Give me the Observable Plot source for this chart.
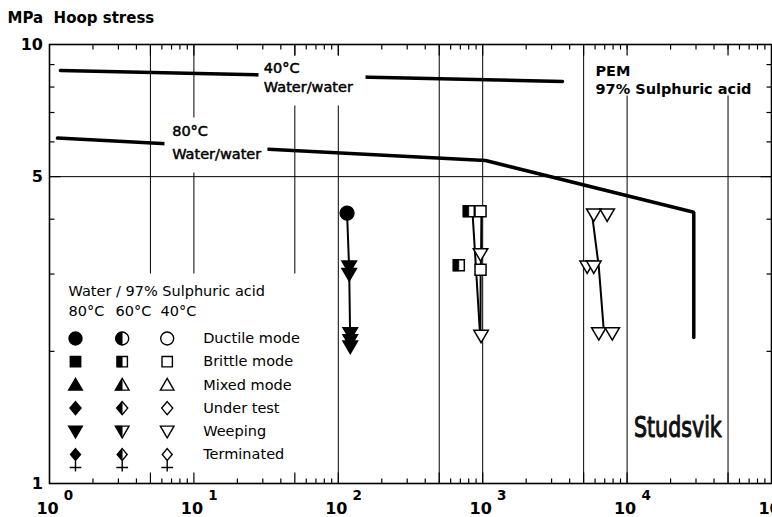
<!DOCTYPE html>
<html><head><meta charset="utf-8">
<script src="https://cdn.jsdelivr.net/npm/d3@7"></script>
<script src="https://cdn.jsdelivr.net/npm/@observablehq/plot@0.6"></script>
<style>
body{margin:0;background:#fff;}
#chart svg{display:block;}
</style></head><body><div id="chart"></div>
<script>
// ---------- data ----------
const titleText = "MPa\u00a0\u00a0Hoop stress";
const xTickValues = [1, 10, 100, 1000, 10000, 100000];
const xTickExponents = ["0", "1", "2", "3", "4", "5"];
const yTickValues = [10, 5, 1];
const gridX = [5, 10, 50, 100, 500, 1000, 5000, 10000, 50000];
const gridY = [5];

// reference curves (water/water)
const water80X = [1.136, 1046, 28960, 28960];
const water80Y = [6.12, 5.44, 4.15, 2.15];
const water40X = [1.19, 3570];
const water40Y = [8.73, 8.24];

// test points (time h, hoop stress MPa)
const ductile80X = [115];
const ductile80Y = [4.13];
const weeping80X = [119, 119, 121, 121, 121];
const weeping80Y = [3.12, 3.00, 2.20, 2.12, 2.05];
const brittle60X = [801, 683];
const brittle60Y = [4.17, 3.14];
const brittle40X = [966, 966];
const brittle40Y = [4.17, 3.07];
const weeping40X = [966, 975, 5290, 5880, 5880, 7280, 6370, 7890];
const weeping40Y = [3.33, 2.17, 3.12, 3.12, 4.10, 4.10, 2.20, 2.20];

// connecting lines through the point groups
const trend80X = [115, 119, 121];
const trend80Y = [4.13, 3.06, 2.05];
const trend60X = [850, 960];
const trend60Y = [4.15, 2.17];
const trend40aX = [980, 975, 968, 965];
const trend40aY = [4.17, 3.33, 3.07, 2.17];
const trend40bX = [5730, 6370, 6900];
const trend40bY = [4.08, 3.11, 2.23];

// annotations
const labelText = ["40°C", "Water/water", "80°C", "Water/water"];
const labelX = [30.5, 30.5, 7.07, 7.07];
const labelY = [8.84, 8.0, 6.34, 5.63];
const pemText = ["PEM", "97% Sulphuric acid"];
const pemX = [6040, 6040];
const pemY = [8.68, 7.90];
const logoText = ["Studsvik"];
const logoX = [11130];
const logoY = [1.34];

// legend
const legendTitle = "Water / 97% Sulphuric acid";
const legendTemps = ["80°C", "60°C", "40°C"];
const legendModes = ["Ductile mode", "Brittle mode", "Mixed mode", "Under test", "Weeping", "Terminated"];
const legendShapes = ["circle", "square", "triUp", "diamond", "triDown", "terminated"];

// ---------- helpers ----------
const pts = (xs, ys) => xs.map((x, i) => ({x, y: ys[i]}));
const sym = fn => ({draw(c, size) { const r = Math.sqrt(size / Math.PI); fn(c, r); }});
const shapes = {
  circle: sym((c, r) => { c.moveTo(r, 0); c.arc(0, 0, r, 0, 2 * Math.PI); c.closePath(); }),
  square: sym((c, r) => { const s = 0.8 * r; c.rect(-s, -s, 2 * s, 2 * s); }),
  triUp: sym((c, r) => { c.moveTo(0, -r); c.lineTo(1.05 * r, 0.8 * r); c.lineTo(-1.05 * r, 0.8 * r); c.closePath(); }),
  triDown: sym((c, r) => { c.moveTo(0, r); c.lineTo(1.05 * r, -0.8 * r); c.lineTo(-1.05 * r, -0.8 * r); c.closePath(); }),
  diamond: sym((c, r) => { c.moveTo(0, -r); c.lineTo(0.85 * r, 0); c.lineTo(0, r); c.lineTo(-0.85 * r, 0); c.closePath(); }),
  terminated: sym((c, r) => { const d = 0.9 * r; c.moveTo(0, -d); c.lineTo(0.85 * d, 0); c.lineTo(0, d); c.lineTo(-0.85 * d, 0); c.closePath();
    c.moveTo(0, d); c.lineTo(0, 2.6 * r); c.moveTo(-0.9 * r, 2.0 * r); c.lineTo(0.9 * r, 2.0 * r); })
};
const halves = {
  circle: sym((c, r) => { c.moveTo(0, r); c.arc(0, 0, r, Math.PI / 2, 3 * Math.PI / 2); c.closePath(); }),
  square: sym((c, r) => { const s = 0.8 * r; c.rect(-s, -s, s, 2 * s); }),
  triUp: sym((c, r) => { c.moveTo(0, -r); c.lineTo(0, 0.8 * r); c.lineTo(-1.05 * r, 0.8 * r); c.closePath(); }),
  triDown: sym((c, r) => { c.moveTo(0, r); c.lineTo(0, -0.8 * r); c.lineTo(-1.05 * r, -0.8 * r); c.closePath(); }),
  diamond: sym((c, r) => { c.moveTo(0, -r); c.lineTo(0, r); c.lineTo(-0.85 * r, 0); c.closePath(); }),
  terminated: sym((c, r) => { const d = 0.9 * r; c.moveTo(0, -d); c.lineTo(0, d); c.lineTo(-0.85 * d, 0); c.closePath(); })
};
const pxRect = (x0, y0, w, h) => ({draw(c) { c.rect(x0, y0, w, h); }});
const pxLine = (x0, y0, x1, y1) => ({draw(c) { c.moveTo(x0, y0); c.lineTo(x1, y1); }});

const R = 6.9;
function pointMarks(xs, ys, shape, temp) {
  const data = pts(xs, ys);
  const m = [Plot.dot(data, {x: "x", y: "y", symbol: shapes[shape], r: R,
    fill: temp === 80 ? "black" : "white", stroke: "black", strokeWidth: 1.5})];
  if (temp === 60) m.push(Plot.dot(data, {x: "x", y: "y", symbol: halves[shape], r: R, fill: "black", stroke: "black", strokeWidth: 0.6}));
  return m;
}
const lineMark = (xs, ys, w) => Plot.line(pts(xs, ys), {x: "x", y: "y", stroke: "black", strokeWidth: w, strokeLinejoin: "miter"});

// legend marks (pixel layout from frame top-left)
const legCols = [26, 72.7, 117.7];
const legRow0 = 294, legStep = 23.2;
const legText = (s, dx, dy) => Plot.text([s], {text: d => d, frameAnchor: "top-left", dx, dy, textAnchor: "start", lineAnchor: "middle", fontSize: 14.5, fill: "black"});
const legendMarks = [];
legendMarks.push(Plot.dot([0], {frameAnchor: "bottom-left", symbol: pxRect(0, -210, 271, 210), fill: "white", stroke: "none"}));
legendMarks.push(legText(legendTitle, 19, 247));
[19, 66, 111].forEach((dx, j) => legendMarks.push(legText(legendTemps[j], dx, 267)));
legendModes.forEach((mode, i) => {
  const dy = legRow0 + i * legStep;
  const shape = legendShapes[i];
  legCols.forEach((dx, j) => {
    legendMarks.push(Plot.dot([0], {frameAnchor: "top-left", dx, dy, symbol: shapes[shape], r: 6.5,
      fill: j === 0 ? "black" : "white", stroke: "black", strokeWidth: 1.4}));
    if (j === 1) legendMarks.push(Plot.dot([0], {frameAnchor: "top-left", dx, dy, symbol: halves[shape], r: 6.5, fill: "black", stroke: "black", strokeWidth: 0.6}));
  });
  legendMarks.push(legText(mode, 153.7, dy));
});

// ticks
const decadeStarts = [1, 10, 100, 1000, 10000];
const minorX = decadeStarts.flatMap(d => [2, 3, 4, 6, 7, 8, 9].map(k => k * d));
const majorX = decadeStarts.flatMap(d => [d, 5 * d]).filter(v => v > 1);
const minorY = [2, 3, 4, 6, 7, 8, 9];
const majorY = [5];
const tk = {stroke: "black", fill: "none", strokeWidth: 1.2};
const tickMarks = [
  Plot.dot(minorX, {x: d => d, frameAnchor: "top", symbol: pxLine(0, 0, 0, 5), ...tk}),
  Plot.dot(majorX, {x: d => d, frameAnchor: "top", symbol: pxLine(0, 0, 0, 11), ...tk}),
  Plot.dot(minorX, {x: d => d, frameAnchor: "bottom", symbol: pxLine(0, 0, 0, -5), ...tk}),
  Plot.dot(majorX, {x: d => d, frameAnchor: "bottom", symbol: pxLine(0, 0, 0, -11), ...tk}),
  Plot.dot(minorY, {y: d => d, frameAnchor: "left", symbol: pxLine(0, 0, 5, 0), ...tk}),
  Plot.dot(majorY, {y: d => d, frameAnchor: "left", symbol: pxLine(0, 0, 11, 0), ...tk}),
  Plot.dot(minorY, {y: d => d, frameAnchor: "right", symbol: pxLine(0, 0, -5, 0), ...tk}),
  Plot.dot(majorY, {y: d => d, frameAnchor: "right", symbol: pxLine(0, 0, -11, 0), ...tk})
];

const chart = Plot.plot({
  width: 772, height: 517,
  marginTop: 44, marginRight: 1, marginBottom: 34, marginLeft: 49,
  x: {type: "log", domain: [1, 1e5], axis: null},
  y: {type: "log", domain: [1, 10], axis: null},
  style: {fontFamily: "'DejaVu Sans', sans-serif", background: "white", color: "black", overflow: "visible"},
  marks: [
    Plot.ruleX(gridX, {stroke: "black", strokeWidth: 1}),
    Plot.ruleY(gridY, {stroke: "black", strokeWidth: 1}),
    lineMark(water80X, water80Y, 3.5),
    lineMark(water40X, water40Y, 3.5),
    // white boxes behind annotations
    Plot.dot([0], {x: () => labelX[0], y: () => labelY[0], symbol: pxRect(-5.3, -12.5, 107, 50), fill: "white", stroke: "none"}),
    Plot.dot([0], {x: () => labelX[2], y: () => labelY[2], symbol: pxRect(-7.7, -14, 103, 55), fill: "white", stroke: "none"}),
    Plot.dot([0], {x: () => pemX[0], y: () => pemY[0], symbol: pxRect(-5, -22, 178, 46), fill: "white", stroke: "none"}),
    ...legendMarks,
    lineMark(trend80X, trend80Y, 2),
    lineMark(trend60X, trend60Y, 2),
    lineMark(trend40aX, trend40aY, 2),
    lineMark(trend40bX, trend40bY, 2),
    ...pointMarks(ductile80X, ductile80Y, "circle", 80),
    ...pointMarks(weeping80X, weeping80Y, "triDown", 80),
    ...pointMarks(brittle60X, brittle60Y, "square", 60),
    ...pointMarks(brittle40X, brittle40Y, "square", 40),
    ...pointMarks(weeping40X, weeping40Y, "triDown", 40),
    Plot.text(labelText, {x: (d, i) => labelX[i], y: (d, i) => labelY[i], text: d => d, textAnchor: "start", lineAnchor: "middle", fontSize: 14.5, fill: "black", stroke: "black", strokeWidth: 0.5}),
    Plot.text(pemText, {x: (d, i) => pemX[i], y: (d, i) => pemY[i], text: d => d, textAnchor: "start", lineAnchor: "middle", fontSize: 14.5, fontWeight: "bold", fill: "black"}),
    Plot.text(logoText, {x: (d, i) => logoX[i], y: (d, i) => logoY[i], text: d => d, textAnchor: "start", lineAnchor: "middle", fontSize: 29,
      fill: "#111", stroke: "#111", strokeWidth: 1.1}),
    ...tickMarks,
    Plot.frame({stroke: "black", strokeWidth: 1.6}),
    Plot.text(xTickValues, {x: d => d, text: () => "10", frameAnchor: "bottom", lineAnchor: "middle", dx: -2, dy: 25.5, fontSize: 16, fontWeight: "bold", fill: "black"}),
    Plot.text(xTickValues, {x: d => d, text: (d, i) => xTickExponents[i], frameAnchor: "bottom", lineAnchor: "middle", dx: 19, dy: 12, fontSize: 13.5, fontWeight: "bold", fill: "black"}),
    Plot.text(yTickValues, {y: d => d, text: d => String(d), frameAnchor: "left", textAnchor: "end", lineAnchor: "middle", dx: -6.5, fontSize: 16, fontWeight: "bold", fill: "black"}),
    Plot.text([titleText], {text: d => d, frameAnchor: "top-left", dx: -42, dy: -26, textAnchor: "start", lineAnchor: "middle", fontSize: 15, fontWeight: "bold", fill: "black"})
  ]
});
document.getElementById("chart").appendChild(chart);

// condense the logo text horizontally (the original logotype is a narrow face)
chart.querySelectorAll("text").forEach(t => {
  if (t.textContent !== logoText[0]) return;
  const sr = chart.getBoundingClientRect();
  const b = t.getBoundingClientRect();
  const ax = b.left - sr.left;
  const s = 88 / b.width;
  const g = document.createElementNS("http://www.w3.org/2000/svg", "g");
  g.setAttribute("transform", `translate(${ax},0) scale(${s},1) translate(${-ax},0)`);
  t.parentNode.insertBefore(g, t);
  g.appendChild(t);
});
</script></body></html>
